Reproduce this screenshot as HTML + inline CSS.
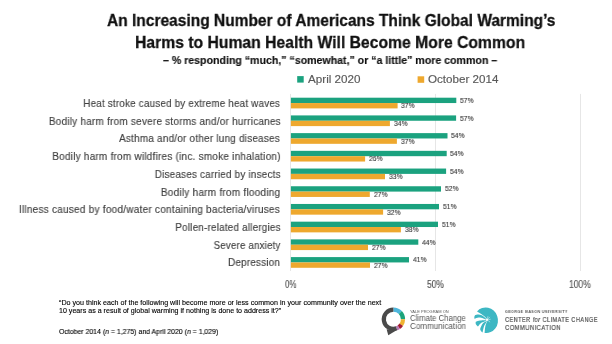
<!DOCTYPE html><html><head><meta charset="utf-8"><style>
html,body{margin:0;padding:0;background:#fff;width:612px;height:344px;overflow:hidden;position:relative;font-family:"Liberation Sans", sans-serif;}
.t{position:absolute;white-space:nowrap;line-height:1;will-change:transform;}
.b{position:absolute;}
</style></head><body>
<svg style="position:absolute;left:0;top:0" width="612" height="344"><rect x="290.00" y="93.9" width="1" height="177.10" fill="#e6e6e6"/><rect x="435.00" y="93.9" width="1" height="177.10" fill="#e6e6e6"/><rect x="580.00" y="93.9" width="1" height="177.10" fill="#e6e6e6"/><rect x="290.90" y="97.70" width="165.40" height="5.35" fill="#1ba27f"/><rect x="290.90" y="103.05" width="106.70" height="5.35" fill="#eea82e"/><rect x="290.90" y="115.41" width="165.20" height="5.35" fill="#1ba27f"/><rect x="290.90" y="120.76" width="99.00" height="5.35" fill="#eea82e"/><rect x="290.90" y="133.12" width="156.60" height="5.35" fill="#1ba27f"/><rect x="290.90" y="138.47" width="106.00" height="5.35" fill="#eea82e"/><rect x="290.90" y="150.83" width="155.80" height="5.35" fill="#1ba27f"/><rect x="290.90" y="156.18" width="74.20" height="5.35" fill="#eea82e"/><rect x="290.90" y="168.54" width="155.20" height="5.35" fill="#1ba27f"/><rect x="290.90" y="173.89" width="94.10" height="5.35" fill="#eea82e"/><rect x="290.90" y="186.25" width="150.10" height="5.35" fill="#1ba27f"/><rect x="290.90" y="191.60" width="78.90" height="5.35" fill="#eea82e"/><rect x="290.90" y="203.96" width="148.10" height="5.35" fill="#1ba27f"/><rect x="290.90" y="209.31" width="92.20" height="5.35" fill="#eea82e"/><rect x="290.90" y="221.67" width="147.10" height="5.35" fill="#1ba27f"/><rect x="290.90" y="227.02" width="110.00" height="5.35" fill="#eea82e"/><rect x="290.90" y="239.38" width="127.40" height="5.35" fill="#1ba27f"/><rect x="290.90" y="244.73" width="77.10" height="5.35" fill="#eea82e"/><rect x="290.90" y="257.09" width="118.10" height="5.35" fill="#1ba27f"/><rect x="290.90" y="262.44" width="79.10" height="5.35" fill="#eea82e"/><rect x="297.2" y="76.1" width="6.5" height="6.5" fill="#1ba27f"/><rect x="417.6" y="76.3" width="6.6" height="6.5" fill="#eea82e"/></svg>
<div class="t" id="t1" style="left:106.50px;transform-origin:left top;top:12.21px;font-size:17.4px;font-weight:bold;color:#111;transform:scaleX(0.8924);-webkit-text-stroke:0.3px #111">An Increasing Number of Americans Think Global Warming’s</div>
<div class="t" id="t2" style="left:135.10px;transform-origin:left top;top:34.21px;font-size:17.4px;font-weight:bold;color:#111;transform:scaleX(0.9035);-webkit-text-stroke:0.3px #111">Harms to Human Health Will Become More Common</div>
<div class="t" id="sub" style="left:163.00px;transform-origin:left top;top:54.82px;font-size:10.8px;font-weight:bold;color:#111;transform:scaleX(0.9806);-webkit-text-stroke:0.15px #111">– % responding “much,” “somewhat,” or “a little” more common –</div>
<div class="t" id="lg1" style="left:307.60px;transform-origin:left top;top:73.59px;font-size:10.6px;font-weight:normal;color:#595959;transform:scaleX(1.1000);-webkit-text-stroke:0.15px #595959">April 2020</div>
<div class="t" id="lg2" style="left:428.00px;transform-origin:left top;top:73.59px;font-size:10.6px;font-weight:normal;color:#595959;transform:scaleX(1.0969);-webkit-text-stroke:0.15px #595959">October 2014</div>
<div class="t" id="c0" style="right:331.86px;transform-origin:right top;top:97.99px;font-size:10.6px;font-weight:normal;color:#404040;transform:scaleX(0.9236);-webkit-text-stroke:0.15px #404040;letter-spacing:0.25px">Heat stroke caused by extreme heat waves</div>
<div class="t" id="g0" style="left:460.00px;transform-origin:left top;top:96.87px;font-size:7.8px;font-weight:normal;color:#404040;transform:scaleX(0.8687);-webkit-text-stroke:0.15px #404040">57%</div>
<div class="t" id="o0" style="left:401.30px;transform-origin:left top;top:102.32px;font-size:7.8px;font-weight:normal;color:#404040;transform:scaleX(0.8687);-webkit-text-stroke:0.15px #404040">37%</div>
<div class="t" id="c1" style="right:331.13px;transform-origin:right top;top:115.70px;font-size:10.6px;font-weight:normal;color:#404040;transform:scaleX(0.9396);-webkit-text-stroke:0.15px #404040;letter-spacing:0.25px">Bodily harm from severe storms and/or hurricanes</div>
<div class="t" id="g1" style="left:459.80px;transform-origin:left top;top:114.58px;font-size:7.8px;font-weight:normal;color:#404040;transform:scaleX(0.8687);-webkit-text-stroke:0.15px #404040">57%</div>
<div class="t" id="o1" style="left:393.60px;transform-origin:left top;top:120.03px;font-size:7.8px;font-weight:normal;color:#404040;transform:scaleX(0.8687);-webkit-text-stroke:0.15px #404040">34%</div>
<div class="t" id="c2" style="right:332.03px;transform-origin:right top;top:133.41px;font-size:10.6px;font-weight:normal;color:#404040;transform:scaleX(0.9355);-webkit-text-stroke:0.15px #404040;letter-spacing:0.25px">Asthma and/or other lung diseases</div>
<div class="t" id="g2" style="left:451.20px;transform-origin:left top;top:132.29px;font-size:7.8px;font-weight:normal;color:#404040;transform:scaleX(0.8687);-webkit-text-stroke:0.15px #404040">54%</div>
<div class="t" id="o2" style="left:400.60px;transform-origin:left top;top:137.74px;font-size:7.8px;font-weight:normal;color:#404040;transform:scaleX(0.8687);-webkit-text-stroke:0.15px #404040">37%</div>
<div class="t" id="c3" style="right:331.34px;transform-origin:right top;top:151.12px;font-size:10.6px;font-weight:normal;color:#404040;transform:scaleX(0.9411);-webkit-text-stroke:0.15px #404040;letter-spacing:0.25px">Bodily harm from wildfires (inc. smoke inhalation)</div>
<div class="t" id="g3" style="left:450.40px;transform-origin:left top;top:150.00px;font-size:7.8px;font-weight:normal;color:#404040;transform:scaleX(0.8687);-webkit-text-stroke:0.15px #404040">54%</div>
<div class="t" id="o3" style="left:368.80px;transform-origin:left top;top:155.45px;font-size:7.8px;font-weight:normal;color:#404040;transform:scaleX(0.8687);-webkit-text-stroke:0.15px #404040">26%</div>
<div class="t" id="c4" style="right:331.35px;transform-origin:right top;top:168.83px;font-size:10.6px;font-weight:normal;color:#404040;transform:scaleX(0.9276);-webkit-text-stroke:0.15px #404040;letter-spacing:0.25px">Diseases carried by insects</div>
<div class="t" id="g4" style="left:449.80px;transform-origin:left top;top:167.71px;font-size:7.8px;font-weight:normal;color:#404040;transform:scaleX(0.8687);-webkit-text-stroke:0.15px #404040">54%</div>
<div class="t" id="o4" style="left:388.70px;transform-origin:left top;top:173.16px;font-size:7.8px;font-weight:normal;color:#404040;transform:scaleX(0.8687);-webkit-text-stroke:0.15px #404040">33%</div>
<div class="t" id="c5" style="right:331.65px;transform-origin:right top;top:186.54px;font-size:10.6px;font-weight:normal;color:#404040;transform:scaleX(0.9456);-webkit-text-stroke:0.15px #404040;letter-spacing:0.25px">Bodily harm from flooding</div>
<div class="t" id="g5" style="left:444.70px;transform-origin:left top;top:185.42px;font-size:7.8px;font-weight:normal;color:#404040;transform:scaleX(0.8687);-webkit-text-stroke:0.15px #404040">52%</div>
<div class="t" id="o5" style="left:373.50px;transform-origin:left top;top:190.87px;font-size:7.8px;font-weight:normal;color:#404040;transform:scaleX(0.8687);-webkit-text-stroke:0.15px #404040">27%</div>
<div class="t" id="c6" style="right:331.96px;transform-origin:right top;top:204.25px;font-size:10.6px;font-weight:normal;color:#404040;transform:scaleX(0.9462);-webkit-text-stroke:0.15px #404040;letter-spacing:0.25px">Illness caused by food/water containing bacteria/viruses</div>
<div class="t" id="g6" style="left:442.70px;transform-origin:left top;top:203.13px;font-size:7.8px;font-weight:normal;color:#404040;transform:scaleX(0.8687);-webkit-text-stroke:0.15px #404040">51%</div>
<div class="t" id="o6" style="left:386.80px;transform-origin:left top;top:208.58px;font-size:7.8px;font-weight:normal;color:#404040;transform:scaleX(0.8687);-webkit-text-stroke:0.15px #404040">32%</div>
<div class="t" id="c7" style="right:331.29px;transform-origin:right top;top:221.96px;font-size:10.6px;font-weight:normal;color:#404040;transform:scaleX(0.9268);-webkit-text-stroke:0.15px #404040;letter-spacing:0.25px">Pollen-related allergies</div>
<div class="t" id="g7" style="left:441.70px;transform-origin:left top;top:220.84px;font-size:7.8px;font-weight:normal;color:#404040;transform:scaleX(0.8687);-webkit-text-stroke:0.15px #404040">51%</div>
<div class="t" id="o7" style="left:404.60px;transform-origin:left top;top:226.29px;font-size:7.8px;font-weight:normal;color:#404040;transform:scaleX(0.8687);-webkit-text-stroke:0.15px #404040">38%</div>
<div class="t" id="c8" style="right:331.47px;transform-origin:right top;top:239.67px;font-size:10.6px;font-weight:normal;color:#404040;transform:scaleX(0.9096);-webkit-text-stroke:0.15px #404040;letter-spacing:0.25px">Severe anxiety</div>
<div class="t" id="g8" style="left:422.00px;transform-origin:left top;top:238.55px;font-size:7.8px;font-weight:normal;color:#404040;transform:scaleX(0.8687);-webkit-text-stroke:0.15px #404040">44%</div>
<div class="t" id="o8" style="left:371.70px;transform-origin:left top;top:244.00px;font-size:7.8px;font-weight:normal;color:#404040;transform:scaleX(0.8687);-webkit-text-stroke:0.15px #404040">27%</div>
<div class="t" id="c9" style="right:331.91px;transform-origin:right top;top:257.38px;font-size:10.6px;font-weight:normal;color:#404040;transform:scaleX(0.9273);-webkit-text-stroke:0.15px #404040;letter-spacing:0.25px">Depression</div>
<div class="t" id="g9" style="left:412.70px;transform-origin:left top;top:256.26px;font-size:7.8px;font-weight:normal;color:#404040;transform:scaleX(0.8687);-webkit-text-stroke:0.15px #404040">41%</div>
<div class="t" id="o9" style="left:373.70px;transform-origin:left top;top:261.71px;font-size:7.8px;font-weight:normal;color:#404040;transform:scaleX(0.8687);-webkit-text-stroke:0.15px #404040">27%</div>
<div class="t" id="ax0" style="left:284.80px;transform-origin:left top;top:280.40px;font-size:10.0px;font-weight:normal;color:#555;transform:scaleX(0.8000);-webkit-text-stroke:0.15px #555">0%</div>
<div class="t" id="ax50" style="left:426.90px;transform-origin:left top;top:280.40px;font-size:10.0px;font-weight:normal;color:#555;transform:scaleX(0.8450);-webkit-text-stroke:0.15px #555">50%</div>
<div class="t" id="ax100" style="left:568.90px;transform-origin:left top;top:280.40px;font-size:10.0px;font-weight:normal;color:#555;transform:scaleX(0.8500);-webkit-text-stroke:0.15px #555">100%</div>
<div class="t" id="f1" style="left:58.50px;transform-origin:left top;top:299.96px;font-size:7.1px;font-weight:normal;color:#000;transform:scaleX(1.0063);-webkit-text-stroke:0.12px #000">“Do you think each of the following will become more or less common in your community over the next</div>
<div class="t" id="f2" style="left:58.80px;transform-origin:left top;top:308.06px;font-size:7.1px;font-weight:normal;color:#000;transform:scaleX(1.0005);-webkit-text-stroke:0.12px #000">10 years as a result of global warming if nothing is done to address it?”</div>
<div class="t" id="f3" style="left:58.60px;transform-origin:left top;top:329.06px;font-size:7.1px;font-weight:normal;color:#000;transform:scaleX(0.9755);-webkit-text-stroke:0.12px #000">October 2014 (<i>n</i> = 1,275) and April 2020 (<i>n</i> = 1,029)</div>
<div class="t" id="y1" style="left:409.80px;transform-origin:left top;top:310.57px;font-size:3.8px;font-weight:normal;color:#555;transform:scaleX(1.0486);">YALE PROGRAM ON</div>
<div class="t" id="y2" style="left:410.00px;transform-origin:left top;top:314.19px;font-size:8.6px;font-weight:normal;color:#555;transform:scaleX(0.9066);">Climate Change</div>
<div class="t" id="y3" style="left:410.00px;transform-origin:left top;top:321.99px;font-size:8.6px;font-weight:normal;color:#555;transform:scaleX(0.9373);">Communication</div>
<div class="t" id="m1" style="left:504.90px;transform-origin:left top;top:310.06px;font-size:4.4px;font-weight:bold;color:#555;transform:scaleX(0.8280);letter-spacing:0.5px">GEORGE MASON UNIVERSITY</div>
<div class="t" id="m2" style="left:504.50px;transform-origin:left top;top:315.71px;font-size:7.4px;font-weight:normal;color:#4d4d4d;transform:scaleX(0.7537);-webkit-text-stroke:0.2px #4d4d4d;letter-spacing:0.6px">CENTER <i>for</i> CLIMATE CHANGE</div>
<div class="t" id="m3" style="left:504.50px;transform-origin:left top;top:324.21px;font-size:7.4px;font-weight:normal;color:#4d4d4d;transform:scaleX(0.7871);-webkit-text-stroke:0.2px #4d4d4d;letter-spacing:0.6px">COMMUNICATION</div>
<svg style="position:absolute;left:0;top:0" width="612" height="344"><path d="M393.40 309.60 A9.6 9.6 0 0 1 400.31 312.53" stroke="#4db6dc" stroke-width="4.2" fill="none"/><path d="M400.31 312.53 A9.6 9.6 0 0 1 403.00 319.20" stroke="#1ca37b" stroke-width="4.2" fill="none"/><path d="M403.00 319.20 A9.6 9.6 0 0 1 401.26 324.71" stroke="#f0b331" stroke-width="4.2" fill="none"/><path d="M401.26 324.71 A9.6 9.6 0 0 1 398.77 327.16" stroke="#a51d33" stroke-width="4.2" fill="none"/><path d="M398.77 327.16 A9.6 9.6 0 0 1 396.53 328.28" stroke="#b878b4" stroke-width="4.2" fill="none"/><path d="M396.53 328.28 A9.6 9.6 0 1 1 393.40 309.60" stroke="#4a4a4a" stroke-width="4.2" fill="none"/><path d="M386.6 329.2 L388.3 335.3 L397.4 329.7 Z" fill="#4a4a4a"/><path d="M477.0 311.5 A12.0 12.8 -10 1 1 484.6 332.9 C484.73 331.77 484.95 328.08 485.40 326.10 C485.85 324.12 486.98 321.85 487.30 321.00 L487.0 319.0 C486.38 318.43 484.47 316.55 483.30 315.60 C482.13 314.65 481.05 313.98 480.00 313.30 C478.95 312.62 477.50 311.80 477.00 311.50 Z" fill="#3db7c3"/><path d="M475.00 315.30 C475.62 315.18 477.32 314.45 478.70 314.60 C480.08 314.75 482.03 315.47 483.30 316.20 C484.57 316.93 485.80 318.53 486.30 319.00 L486.30 319.70 C485.80 319.50 484.57 318.85 483.30 318.50 C482.03 318.15 480.15 317.53 478.70 317.60 C477.25 317.67 475.28 318.68 474.60 318.90 Q473.70 317.10 475.00 315.30 Z" fill="#3db7c3"/><path d="M475.80 321.80 C476.50 321.60 478.60 320.85 480.00 320.60 C481.40 320.35 483.15 320.37 484.20 320.30 C485.25 320.23 485.95 320.22 486.30 320.20 L486.30 320.90 C485.47 321.20 482.70 321.75 481.30 322.70 C479.90 323.65 478.47 325.95 477.90 326.60 Q474.90 324.20 475.80 321.80 Z" fill="#3db7c3"/><path d="M480.40 328.00 C480.80 327.25 481.77 324.65 482.80 323.50 C483.83 322.35 485.97 321.50 486.60 321.10 L486.90 321.50 C486.43 322.27 484.82 324.25 484.10 326.10 C483.38 327.95 482.85 331.52 482.60 332.60 Q479.50 330.30 480.40 328.00 Z" fill="#3db7c3"/><g stroke="#fff" stroke-width="0.45" stroke-linecap="round"><path d="M487.2 319.8 L490.3 319.3 M487.2 319.8 L489.6 317.2 M487.2 319.8 L487.9 316.6 M487.2 319.8 L489.8 321.9"/></g><circle cx="487.2" cy="319.8" r="0.9" fill="#fff"/></svg>
</body></html>
